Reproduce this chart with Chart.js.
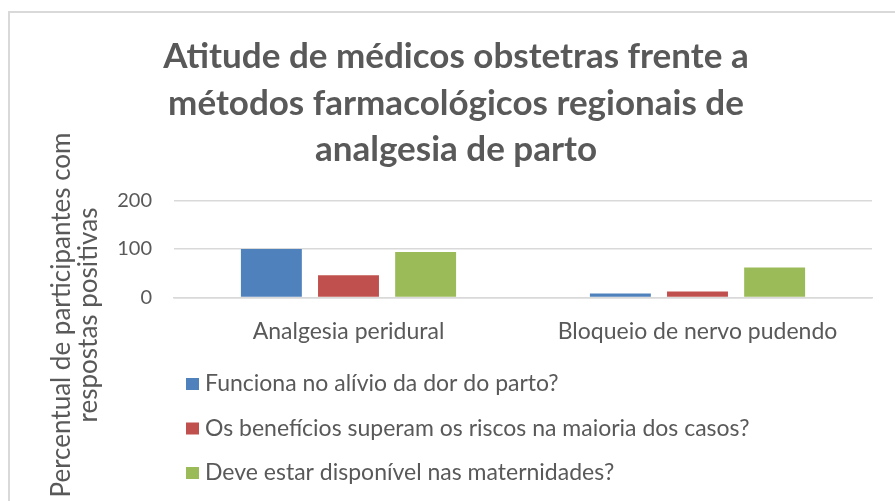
<!DOCTYPE html>
<html>
<head>
<meta charset="utf-8">
<script src="https://cdn.jsdelivr.net/npm/chart.js@4.4.1/dist/chart.umd.min.js"></script>
<style>
    html, body { margin: 0; padding: 0; background: #fff; overflow: hidden; }
    #wrap { position: relative; width: 895px; height: 501px; }
</style>
</head>
<body>
<div id="wrap"><canvas id="chart"></canvas></div>
<script>
// data
const categories = ['Analgesia peridural', 'Bloqueio de nervo pudendo'];
const seriesNames = [
    'Funciona no alívio da dor do parto?',
    'Os benefícios superam os riscos na maioria dos casos?',
    'Deve estar disponível nas maternidades?'
];
const funcionaValues = [100, 8];
const beneficiosValues = [46, 12];
const disponivelValues = [94, 62];
const yTicks = [0, 100, 200];

const titleLines = [
    'Atitude de médicos obstetras frente a',
    'métodos farmacológicos regionais de',
    'analgesia de parto'
];
const yTitleLines = ['Percentual de participantes com', 'respostas positivas'];

const seriesColors = ['#4f81bd', '#c0504d', '#9bbb59'];
const textColor = '#595959';
const gridColor = '#d9d9d9';
const fontFamily = 'Lato, "Open Sans", sans-serif';

// frame around the chart + rotated two-line y title
const framePlugin = {
    id: 'frame',
    beforeDraw(chart) {
        const ctx = chart.ctx;
        ctx.save();
        ctx.strokeStyle = gridColor;
        ctx.lineWidth = 2;
        ctx.strokeRect(9, 12, 1000, 1000);
        ctx.restore();
    },
    afterDraw(chart) {
        const ctx = chart.ctx;
        const area = chart.chartArea;
        ctx.save();
        ctx.fillStyle = textColor;
        ctx.font = '26px ' + fontFamily;
        ctx.textAlign = 'center';
        ctx.textBaseline = 'middle';
        ctx.translate(area.left - 99, 315);
        ctx.rotate(-Math.PI / 2);
        yTitleLines.forEach((line, i) => {
            ctx.fillText(line, 0, (i - 0.5) * 27);
        });
        ctx.restore();
    }
};

// vertical legend under the x labels
const legendPlugin = {
    id: 'vlegend',
    afterDraw(chart) {
        const ctx = chart.ctx;
        const left = chart.chartArea.left + 12;
        const top = chart.scales.x.bottom;
        ctx.save();
        ctx.font = '23px ' + fontFamily;
        ctx.textBaseline = 'middle';
        ctx.textAlign = 'left';
        chart.data.datasets.forEach((ds, i) => {
            const y = top + 27 + i * 44.5;
            ctx.fillStyle = ds.backgroundColor;
            ctx.fillRect(left, y - 6, 13, 12);
            ctx.fillStyle = textColor;
            ctx.fillText(ds.label, left + 19, y);
        });
        ctx.restore();
    }
};

const valueSets = [funcionaValues, beneficiosValues, disponivelValues];

new Chart(document.getElementById('chart'), {
    type: 'bar',
    data: {
        labels: categories,
        datasets: seriesNames.map((name, i) => ({
            label: name,
            data: valueSets[i],
            backgroundColor: seriesColors[i],
            borderWidth: 0,
            categoryPercentage: 0.663,
            barPercentage: 0.79
        }))
    },
    options: {
        responsive: true,
        maintainAspectRatio: false,
        animation: false,
        layout: {
            padding: { left: 40, right: 23, top: 0, bottom: 144 }
        },
        plugins: {
            legend: { display: false },
            tooltip: { enabled: false },
            title: {
                display: true,
                text: titleLines,
                color: textColor,
                font: { family: fontFamily, size: 35, weight: 'bold', lineHeight: 1.32 },
                padding: { top: 34, bottom: 28 }
            }
        },
        scales: {
            x: {
                grid: { display: false },
                border: { display: true, color: gridColor, width: 1.5 },
                ticks: {
                    color: textColor,
                    font: { family: fontFamily, size: 23 },
                    padding: 12,
                    maxRotation: 0
                }
            },
            y: {
                min: 0,
                max: 200,
                afterBuildTicks: scale => {
                    scale.ticks = yTicks.map(v => ({ value: v }));
                },
                afterFit: scale => {
                    scale.width = 134;
                },
                grid: { color: gridColor, lineWidth: 1.5, drawTicks: false },
                border: { display: false },
                ticks: {
                    color: textColor,
                    font: { family: fontFamily, size: 20 },
                    padding: 22
                }
            }
        }
    },
    plugins: [framePlugin, legendPlugin]
});
</script>
</body>
</html>
